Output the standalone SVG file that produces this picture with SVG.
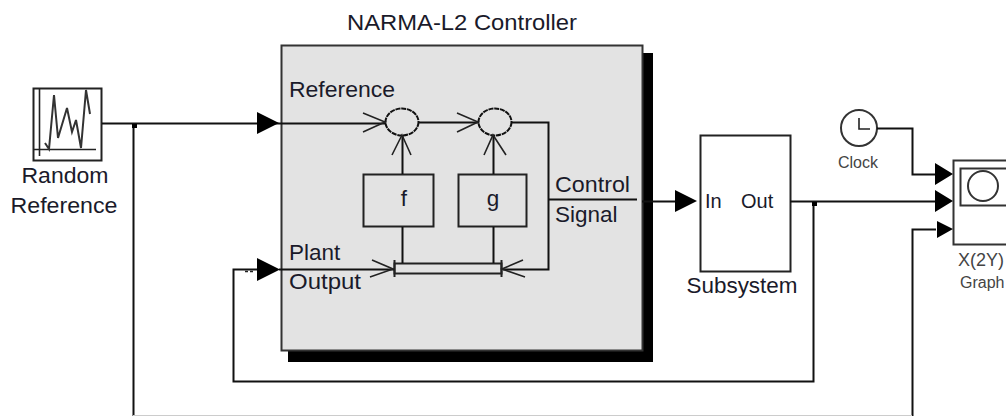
<svg xmlns="http://www.w3.org/2000/svg" width="1006" height="416" viewBox="0 0 1006 416">
<style>
text{font-family:"Liberation Sans",Arial,sans-serif;font-size:22.5px;fill:#1a1a2a}
.s{font-size:16px;fill:#444}
.c{fill:none;stroke:#111;stroke-width:2}
.b{fill:none;stroke:#222;stroke-width:2}
.t{fill:none;stroke:#222;stroke-width:1.6}
.h{fill:#000;stroke:none}
</style>
<rect width="1006" height="416" fill="#fff"/>
<g id="random-reference">
<rect class="b" x="33.500" y="88.500" width="68" height="72"/>
<path class="t" d="M39.500 89V156M34 149.500H96"/>
<path d="M45 143L49 149L54 95L58 138L67 108L72 132L76 120L81 148L86 90L90 114" fill="none" stroke="#333" stroke-width="2"/>
<text x="65" y="183" text-anchor="middle" textLength="87" lengthAdjust="spacingAndGlyphs">Random</text>
<text x="64" y="213" text-anchor="middle" textLength="107" lengthAdjust="spacingAndGlyphs">Reference</text>
</g>
<g id="narma-controller">
<rect x="288" y="53" width="365" height="309" fill="#000"/>
<rect x="281.500" y="45.500" width="361" height="305" fill="#e3e3e3" stroke="#333" stroke-width="2"/>
<text x="462" y="30" text-anchor="middle" textLength="230" lengthAdjust="spacingAndGlyphs">NARMA-L2 Controller</text>
<text x="289" y="97" textLength="106" lengthAdjust="spacingAndGlyphs">Reference</text>
<text x="289" y="260">Plant</text>
<text x="289" y="289" textLength="72" lengthAdjust="spacingAndGlyphs">Output</text>
<text x="555" y="192" textLength="75" lengthAdjust="spacingAndGlyphs">Control</text>
<text x="555" y="222">Signal</text>
</g>
<g id="sum-1"><ellipse cx="402" cy="122" rx="16.500" ry="13.500" fill="#e3e3e3" stroke="#111" stroke-width="2" stroke-dasharray="5 0.800"/></g>
<g id="sum-2"><ellipse cx="495" cy="122" rx="16.500" ry="13.500" fill="#e3e3e3" stroke="#111" stroke-width="2" stroke-dasharray="5 0.800"/></g>
<g id="block-f"><rect class="b" x="363.500" y="174.500" width="70" height="52"/><text x="404" y="206" text-anchor="middle">f</text></g>
<g id="block-g"><rect class="b" x="458.500" y="174.500" width="68" height="52"/><text x="493" y="206" text-anchor="middle">g</text></g>
<g id="bus"><rect class="b" x="394.500" y="263.500" width="107" height="10" fill="#eee"/><path class="b" d="M394.500 260V277M501.500 260V277"/></g>
<g id="subsystem"><rect class="b" x="700.500" y="135.500" width="90" height="136"/><text x="705" y="208" style="font-size:20px">In</text><text x="741" y="208" style="font-size:20px">Out</text><text x="742" y="293" text-anchor="middle" textLength="111" lengthAdjust="spacingAndGlyphs">Subsystem</text></g>
<g id="clock"><circle cx="859" cy="128" r="18" fill="none" stroke="#333" stroke-width="2"/><path class="t" d="M859 118V129H870"/><text class="s" x="858" y="168" text-anchor="middle">Clock</text></g>
<g id="graph"><path d="M1006 160.500H953.500V244.500H1006" fill="none" stroke="#333" stroke-width="2"/><path d="M1006 168.500H960.500V205.500H1006" fill="none" stroke="#333" stroke-width="2"/><circle cx="983" cy="186" r="15" fill="none" stroke="#333" stroke-width="2"/><text class="s" x="981" y="266" text-anchor="middle" style="font-size:18px">X(2Y)</text><text class="s" x="960" y="288">Graph</text></g>
<g id="connectors">
<path class="c" d="M102 123.500H281"/>
<path class="c" d="M133.500 124V416M912.500 416V229.500H936"/>
<path d="M133 415.500H912" fill="none" stroke="#ccc" stroke-width="1"/>
<rect class="h" x="132" y="124" width="5" height="4"/>
<path class="c" d="M281 123.500H386M418 122.500H479M511 122.500H548.500V269.500H503M548 199.500H637"/>
<path class="c" d="M402.500 136V174M493.500 136V174M402.500 227V263M493.500 227V263"/>
<path class="c" d="M257 269.500H233.500V381.500H813.500V202M279 269.500H394"/>
<path class="t" d="M363 113L385 122L363 132M457 113L478 122L457 132M392 155L402 135L411 155M484 155L493 135L506 155M372 260L393 269L370 277M523 260L502 269L525 277"/>
<path d="M245 271.500H248M250 271.500H253" fill="none" stroke="#222" stroke-width="1.500"/>
<path class="c" d="M642 201.500H676M790 201.500H936M877 128.500H912.500V174.500H936"/>
<rect class="h" x="812" y="202" width="5" height="4"/>
<path class="h" d="M257 112L279 123L257 134ZM257 258L280 269.500L257 281ZM675 190L697 201L675 212ZM935 163L953 174L935 185ZM935 190L953 201L935 212ZM937 221L953 229L937 238Z"/>
</g>
</svg>
